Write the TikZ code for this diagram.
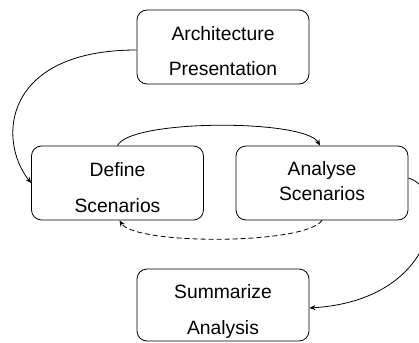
\documentclass[tikz,border=0pt]{standalone}
\usepackage{fontspec}
\setmainfont{Liberation Sans}
\usetikzlibrary{arrows.meta}
\begin{document}
\begin{tikzpicture}[x=1pt,y=-1pt,
  box/.style={draw,line width=0.8pt,rounded corners=10pt,minimum width=172pt,minimum height=74pt,inner sep=0pt},
  lbl/.style={anchor=base,inner sep=0pt,font=\fontsize{19.3}{22}\selectfont},
  conn/.style={line width=0.8pt,-{Stealth[length=6pt,width=5pt]}}]
\useasboundingbox (0,0) rectangle (419,342);
\node[box] (arch) at (223,47) {};
\node[box] (def) at (117.5,183) {};
\node[box] (ana) at (322,183) {};
\node[box,minimum height=72pt] (sum) at (223,305) {};
\node[lbl] (arch1) at (223,41) {Architecture};
\node[lbl] (arch2) at (223,76) {Presentation};
\node[lbl] (def1) at (117.5,176) {Define};
\node[lbl] (def2) at (117.5,212) {Scenarios};
\node[lbl] (ana1) at (322,175) {Analyse};
\node[lbl] (ana2) at (322,200) {Scenarios};
\node[lbl] (sum1) at (223,298) {Summarize};
\node[lbl] (sum2) at (223,334) {Analysis};
\draw[conn] ([yshift=-3pt]arch.west) .. controls (3,50) and (-3,140) .. (def.west);
\draw[conn] (def.north) .. controls (130,119) and (305,119) .. ([xshift=-2pt]ana.north);
\draw[conn,dash pattern=on 5pt off 3pt] (ana.south) .. controls (305,245) and (135,245) .. ([xshift=2pt]def.south);
\draw[conn] ([yshift=5pt]ana.east) .. controls (450,190) and (440,300) .. ([yshift=-3pt]sum.east);
\end{tikzpicture}
\end{document}
